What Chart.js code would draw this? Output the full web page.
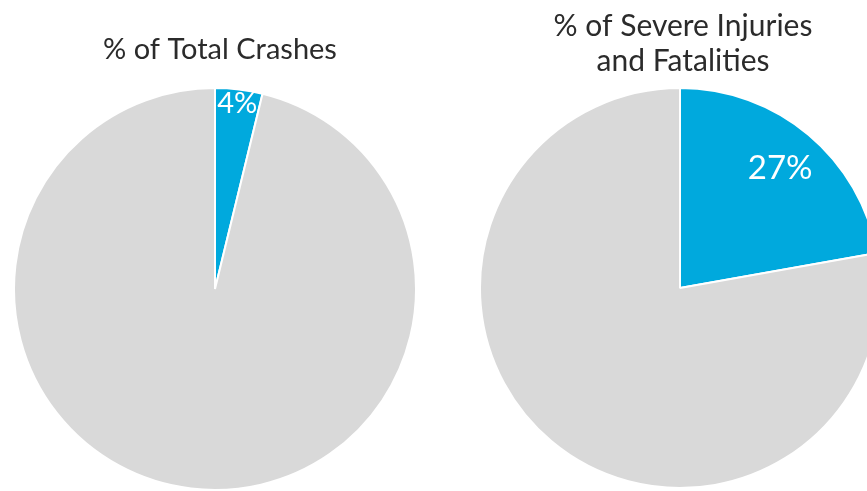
<!DOCTYPE html>
<html>
<head>
<meta charset="utf-8">
<script src="https://cdn.jsdelivr.net/npm/chart.js@4.4.0/dist/chart.umd.min.js"></script>
<style>
  html, body { margin: 0; padding: 0; background: #ffffff; overflow: hidden; width: 867px; height: 491px; }
  .wrap { position: absolute; top: 0; }
  #w1 { left: 0; width: 434px; height: 491px; }
  #w2 { left: 434px; width: 460px; height: 491px; }
</style>
</head>
<body>
<div class="wrap" id="w1"><canvas id="c1"></canvas></div>
<div class="wrap" id="w2"><canvas id="c2"></canvas></div>
<script>
const categories = ["Share", "Other"];
// slice sizes as drawn in the picture (the right slice is drawn at ~22% of the circle though labelled 27%)
const totalCrashesValues = [3.8, 96.2];
const severeValues = [22.2, 77.8];
const sliceLabels1 = ["4%", ""];
const sliceLabels2 = ["27%", ""];
const title1 = ["% of Total Crashes"];
const title2 = ["% of Severe Injuries", "and Fatalities"];

const BLUE = "#00A9DD";
const GRAY = "#D9D9D9";
const FONT = "Lato, 'Open Sans', sans-serif";

const labelPlugin = {
  id: "labelPlugin",
  afterDatasetsDraw(chart, args, opts) {
    const ctx = chart.ctx;
    const meta = chart.getDatasetMeta(0);
    ctx.save();
    meta.data.forEach((arc, i) => {
      const txt = opts.labels[i];
      if (!txt) return;
      const mid = (arc.startAngle + arc.endAngle) / 2;
      const r = arc.outerRadius * opts.factor;
      const x = arc.x + Math.cos(mid) * r;
      const y = arc.y + Math.sin(mid) * r;
      ctx.fillStyle = "#ffffff";
      ctx.font = opts.size + "px " + FONT;
      ctx.textAlign = "center";
      ctx.textBaseline = "middle";
      ctx.fillText(txt, x, y);
    });
    ctx.restore();
  }
};

const titlePlugin = {
  id: "titlePlugin",
  afterDraw(chart, args, opts) {
    const ctx = chart.ctx;
    ctx.save();
    ctx.fillStyle = "#2b2b2b";
    ctx.font = opts.size + "px " + FONT;
    ctx.textAlign = "center";
    ctx.textBaseline = "alphabetic";
    opts.lines.forEach((l, i) => ctx.fillText(l, opts.x, opts.y + i * opts.lh));
    ctx.restore();
  }
};

function makePie(id, values, labels, padding, labelOpts, titleOpts) {
  return new Chart(document.getElementById(id), {
    type: "pie",
    data: {
      labels: categories,
      datasets: [{
        data: values,
        backgroundColor: [BLUE, GRAY],
        borderColor: "#ffffff",
        borderWidth: 2,
        hoverOffset: 0
      }]
    },
    options: {
      responsive: true,
      maintainAspectRatio: false,
      animation: false,
      layout: { padding: padding },
      plugins: {
        legend: { display: false },
        tooltip: { enabled: false },
        title: { display: false },
        labelPlugin: Object.assign({ labels: labels }, labelOpts),
        titlePlugin: titleOpts
      }
    },
    plugins: [labelPlugin, titlePlugin]
  });
}

makePie("c1", totalCrashesValues, sliceLabels1,
  { left: 13, right: 17, top: 87, bottom: 0 },
  { factor: 0.93, size: 29 },
  { lines: title1, x: 220, y: 59, lh: 34, size: 29 });

makePie("c2", severeValues, sliceLabels2,
  { left: 45, right: 13, top: 86, bottom: 1 },
  { factor: 0.78, size: 33 },
  { lines: title2, x: 249, y: 36, lh: 35, size: 30 });
</script>
</body>
</html>
